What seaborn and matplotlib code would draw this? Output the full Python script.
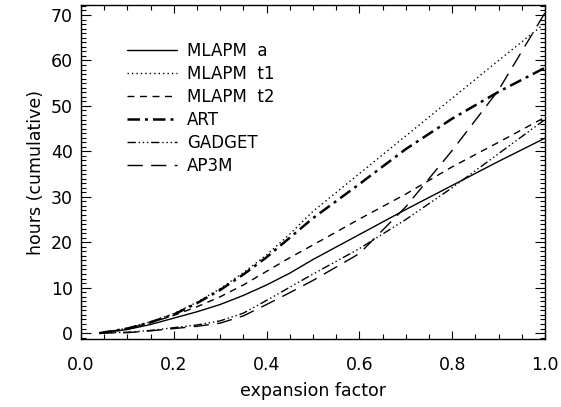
"""Cumulative run time of the cosmological codes versus expansion factor."""
import pandas as pd
import matplotlib
matplotlib.use("Agg")
import matplotlib.pyplot as plt
from matplotlib.ticker import MultipleLocator
import seaborn as sns

# values
expansion = [0.04, 0.10, 0.15, 0.20, 0.25, 0.30, 0.35, 0.40, 0.45, 0.50,
             0.60, 0.70, 0.80, 0.90, 1.00]
mlapm_a = [0.0, 0.8, 1.9, 3.3, 4.7, 6.3, 8.3, 10.6, 13.2, 16.2,
           21.7, 27.2, 32.5, 37.8, 42.9]
mlapm_t1 = [0.0, 1.1, 2.5, 4.3, 6.8, 9.8, 13.3, 17.2, 21.8, 26.8,
            35.1, 43.4, 51.7, 60.0, 68.2]
mlapm_t2 = [0.0, 1.0, 2.3, 3.9, 5.8, 8.0, 10.6, 13.6, 16.6, 19.4,
            25.1, 30.6, 36.6, 42.0, 47.5]
art = [0.0, 1.0, 2.4, 4.1, 6.6, 9.5, 12.9, 16.7, 21.0, 25.3,
       32.8, 40.5, 47.2, 53.1, 58.4]
gadget = [0.0, 0.2, 0.6, 1.2, 1.8, 2.7, 4.4, 7.2, 10.1, 13.0,
          18.6, 25.0, 32.0, 39.5, 47.0]
ap3m = [0.0, 0.1, 0.5, 1.0, 1.5, 2.2, 3.8, 6.3, 8.9, 11.6,
        17.5, 27.8, 40.2, 53.5, 70.5]

codes = ["MLAPM  a", "MLAPM  t1", "MLAPM  t2", "ART", "GADGET", "AP3M"]
series = [mlapm_a, mlapm_t1, mlapm_t2, art, gadget, ap3m]

# line style and width for each code (IDL linestyles 0..5)
styles = {
    "MLAPM  a": ("-", 1.0),
    "MLAPM  t1": ((0, (1, 2.2)), 1.0),
    "MLAPM  t2": ((0, (5, 4)), 1.0),
    "ART": ((0, (5, 2, 1.2, 2)), 1.8),
    "GADGET": ((0, (6, 2, 1, 2, 1, 2, 1, 2)), 1.0),
    "AP3M": ((0, (11, 6)), 1.0),
}

df = pd.DataFrame({"a": expansion})
for name, vals in zip(codes, series):
    df[name] = vals

sns.set_style("ticks")
plt.rcParams["font.family"] = ["DejaVu Sans"]
plt.rcParams["text.color"] = "black"
plt.rcParams["axes.labelcolor"] = "black"
plt.rcParams["xtick.color"] = "black"
plt.rcParams["ytick.color"] = "black"

fig = plt.figure(figsize=(5.61, 4.07), dpi=100)
ax = fig.add_axes([0.1444, 0.167, 0.8271, 0.8207])

for name in codes:
    ls, lw = styles[name]
    sns.lineplot(data=df, x="a", y=name, ax=ax, color="black",
                 linestyle=ls, linewidth=lw, label=name)

ax.set_xlim(0.0, 1.0)
ax.set_ylim(-1.3, 72.2)
ax.xaxis.set_major_locator(MultipleLocator(0.2))
ax.xaxis.set_minor_locator(MultipleLocator(0.05))
ax.yaxis.set_major_locator(MultipleLocator(10))
ax.yaxis.set_minor_locator(MultipleLocator(1))
ax.xaxis.set_major_formatter(plt.FormatStrFormatter("%.1f"))
ax.tick_params(which="major", direction="in", top=True, right=True,
               width=0.8, labelsize=12.5, colors="black")
ax.tick_params(which="minor", direction="in", top=True, right=True,
               width=0.8, length=3.5, color="black")
ax.tick_params(axis="x", which="major", length=6, pad=12)
ax.tick_params(axis="y", which="major", length=7, pad=6)
for sp in ax.spines.values():
    sp.set_linewidth(1.0)
    sp.set_color("black")

ax.set_xlabel("expansion factor", fontsize=12.5, labelpad=6, color="black")
ax.set_ylabel("hours (cumulative)", fontsize=12.5, labelpad=4, color="black")

ax.legend(loc="upper left", bbox_to_anchor=(0.099, 0.889), frameon=False,
          fontsize=12, handlelength=3.0, handletextpad=0.6,
          labelspacing=0.3, borderpad=0, borderaxespad=0, labelcolor="black")

fig.savefig("out.png", dpi=100)
plt.close(fig)
